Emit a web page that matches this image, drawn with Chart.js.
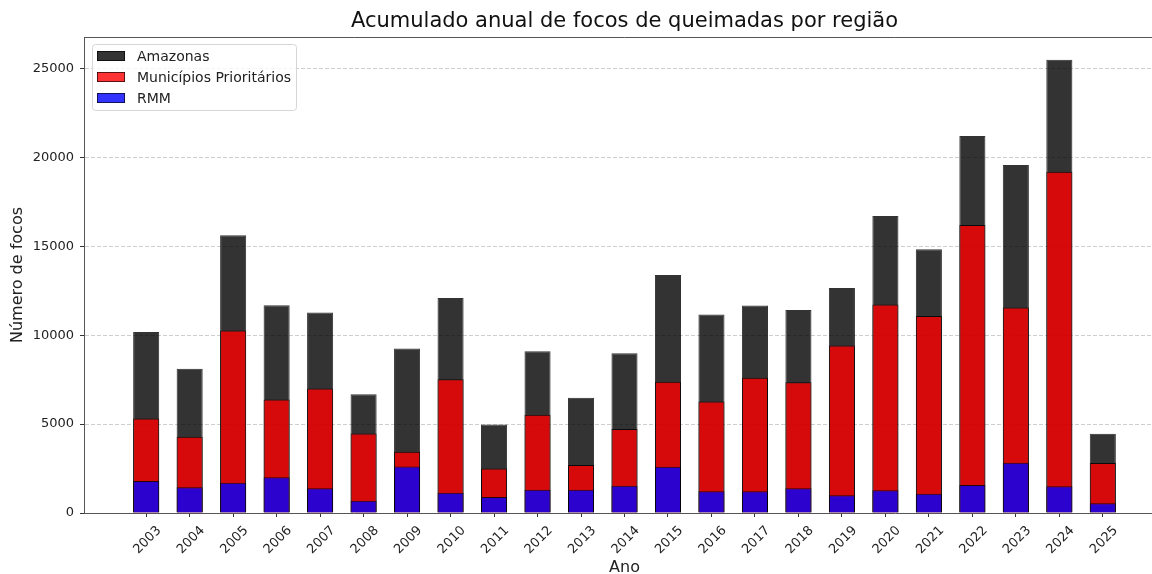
<!DOCTYPE html>
<html>
<head>
<meta charset="utf-8">
<script src="https://cdn.jsdelivr.net/npm/chart.js@4/dist/chart.umd.min.js"></script>
<style>
html,body{margin:0;padding:0;background:#fff;overflow:hidden;width:1152px;height:574px;}
canvas{position:absolute;left:0;top:0;}
</style>
</head>
<body>
<canvas id="c" width="1180" height="574"></canvas>
<script>
const years = [2003,2004,2005,2006,2007,2008,2009,2010,2011,2012,2013,2014,2015,2016,2017,2018,2019,2020,2021,2022,2023,2024,2025];
const amazonas   = [10185,8107,15618,11685,11273,6685,9251,12097,4981,9101,6479,8989,13390,11161,11667,11423,12659,16702,14831,21197,19569,25488,4457];
const municipios = [5320,4288,10262,6386,7004,4476,3446,7528,2509,5524,2697,4719,7378,6273,7603,7360,9419,11723,11086,16199,11554,19195,2809];
const rmm        = [1798,1442,1704,2004,1386,693,2622,1142,899,1311,1311,1536,2603,1217,1217,1386,993,1273,1086,1573,2828,1498,543];
const yTicks = [0,5000,10000,15000,20000,25000];
const seriesNames = ['Amazonas','Municípios Prioritários','RMM'];
const chartTitle = 'Acumulado anual de focos de queimadas por região';

const FONT = "'DejaVu Sans', sans-serif";

const frameAndLegend = {
  id: 'frameAndLegend',
  afterDraw(chart) {
    const ctx = chart.ctx, ca = chart.chartArea;
    ctx.save();
    // title centred over the plot area
    ctx.fillStyle = '#111';
    ctx.font = '21px ' + FONT;
    ctx.textAlign = 'center';
    ctx.textBaseline = 'middle';
    ctx.fillText(chartTitle, (ca.left + ca.right) / 2, 22);
    // top spine
    ctx.strokeStyle = '#555';
    ctx.lineWidth = 1;
    ctx.beginPath();
    ctx.moveTo(ca.left, Math.round(ca.top) + 0.5);
    ctx.lineTo(ca.right, Math.round(ca.top) + 0.5);
    ctx.stroke();
    // legend
    const bx = ca.left + 8.5, by = ca.top + 7.5, bw = 204, bh = 66, r = 3;
    ctx.beginPath();
    ctx.moveTo(bx + r, by);
    ctx.lineTo(bx + bw - r, by); ctx.quadraticCurveTo(bx + bw, by, bx + bw, by + r);
    ctx.lineTo(bx + bw, by + bh - r); ctx.quadraticCurveTo(bx + bw, by + bh, bx + bw - r, by + bh);
    ctx.lineTo(bx + r, by + bh); ctx.quadraticCurveTo(bx, by + bh, bx, by + bh - r);
    ctx.lineTo(bx, by + r); ctx.quadraticCurveTo(bx, by, bx + r, by);
    ctx.closePath();
    ctx.fillStyle = 'rgba(255,255,255,0.8)';
    ctx.fill();
    ctx.strokeStyle = '#d6d6d6';
    ctx.stroke();
    chart.data.datasets.forEach((ds, i) => {
      const cy = ca.top + 19 + i * 21;
      const sx = ca.left + 13;
      ctx.fillStyle = ds.backgroundColor;
      ctx.fillRect(sx, cy - 5, 28, 10);
      ctx.strokeStyle = ds.borderColor;
      ctx.lineWidth = 0.8;
      ctx.strokeRect(sx + 0.4, cy - 5 + 0.4, 27.2, 9.2);
      ctx.fillStyle = '#222';
      ctx.font = '14px ' + FONT;
      ctx.textBaseline = 'middle';
      ctx.textAlign = 'left';
      ctx.fillText(ds.label, ca.left + 53, cy + 1);
    });
    ctx.restore();
  }
};

new Chart(document.getElementById('c'), {
  type: 'bar',
  data: {
    labels: years,
    datasets: [
      { label: seriesNames[0], data: amazonas, backgroundColor: 'rgba(0,0,0,0.8)', borderColor: 'rgba(0,0,0,0.8)', borderWidth: 1, order: 3 },
      { label: seriesNames[1], data: municipios, backgroundColor: 'rgba(255,0,0,0.8)', borderColor: 'rgba(0,0,0,0.8)', borderWidth: 1, order: 2 },
      { label: seriesNames[2], data: rmm, backgroundColor: 'rgba(0,0,255,0.8)', borderColor: 'rgba(0,0,0,0.8)', borderWidth: 1, order: 1 }
    ]
  },
  options: {
    responsive: false,
    devicePixelRatio: 1,
    animation: false,
    layout: { padding: { left: 0, right: 15, top: 37, bottom: 0 } },
    datasets: { bar: { grouped: false, categoryPercentage: 1, barPercentage: 0.6 } },
    plugins: {
      legend: { display: false },
      tooltip: { enabled: false },
      title: { display: false }
    },
    scales: {
      x: {
        type: 'linear',
        offset: false,
        min: years[0] - 1.43,
        max: years[years.length - 1] + 1.43,
        z: 1,
        afterBuildTicks: s => { s.ticks = years.map(v => ({ value: v })); },
        afterFit: s => { s.height = 61; },
        grid: { offset: false, drawOnChartArea: false, drawTicks: true, tickLength: 4, tickColor: '#333', tickWidth: 1 },
        border: { display: true, color: '#555', width: 1 },
        ticks: {
          autoSkip: false,
          minRotation: 45, maxRotation: 45,
          padding: 6,
          labelOffset: 13,
          color: '#222',
          font: { family: FONT, size: 13 },
          callback: v => String(v)
        },
        title: { display: true, text: 'Ano', color: '#222', font: { family: FONT, size: 16 }, padding: { top: 0, bottom: -3 } }
      },
      y: {
        min: 0,
        max: 26770,
        z: 1,
        afterBuildTicks: s => { s.ticks = yTicks.map(v => ({ value: v })); },
        afterFit: s => { s.width = 84; },
        grid: {
          color: ctx => (ctx.tick && ctx.tick.value === 0) ? 'rgba(0,0,0,0)' : 'rgba(190,190,190,0.75)',
          lineWidth: 1,
          drawTicks: true, tickLength: 4, tickColor: '#333', tickWidth: 1, tickBorderDash: []
        },
        border: { display: true, color: '#555', width: 1, dash: [4, 2] },
        ticks: {
          padding: 6,
          color: '#222',
          font: { family: FONT, size: 13 },
          callback: v => String(v)
        },
        title: { display: true, text: 'Número de focos', color: '#222', font: { family: FONT, size: 16 }, padding: { top: 8, bottom: 0 } }
      }
    }
  },
  plugins: [frameAndLegend]
});
</script>
</body>
</html>
